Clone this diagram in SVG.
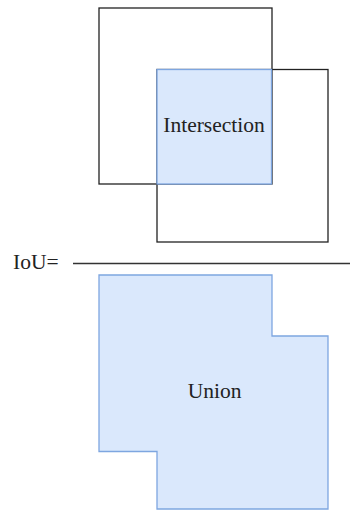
<svg xmlns="http://www.w3.org/2000/svg" width="350" height="510" viewBox="0 0 350 510">
  <style>
    .box { fill: none; stroke: #222; stroke-width: 1.3; }
    .area { fill: #dae8fc; stroke: #7ea6e0; stroke-width: 1.3; }
    .lbl { font-family: "Liberation Serif", "Times New Roman", serif; font-size: 21.5px; fill: #222; }
    .bar { stroke: #333; stroke-width: 1.3; }
  </style>
  <rect width="350" height="510" fill="#ffffff"/>

  <!-- numerator: two overlapping boxes and their shared region -->
  <g id="box-a">
    <rect class="box" x="99" y="8" width="173" height="176"/>
  </g>
  <g id="box-b">
    <rect class="box" x="157" y="69.5" width="171" height="172.5"/>
  </g>
  <g id="intersection">
    <rect class="area" x="157" y="69.5" width="114.5" height="114.5"/>
    <text class="lbl" x="214" y="131.5" text-anchor="middle">Intersection</text>
  </g>

  <!-- fraction bar -->
  <g id="connectors">
    <line class="bar" x1="73" y1="263.5" x2="350" y2="263.5"/>
  </g>
  <g id="iou-label">
    <text class="lbl" x="13" y="269">IoU=</text>
  </g>

  <!-- denominator: combined area of both boxes -->
  <g id="union">
    <path class="area" d="M99 275 H272 V336 H328 V509 H157 V451.5 H99 Z"/>
    <text class="lbl" x="214.5" y="398" text-anchor="middle">Union</text>
  </g>
</svg>
